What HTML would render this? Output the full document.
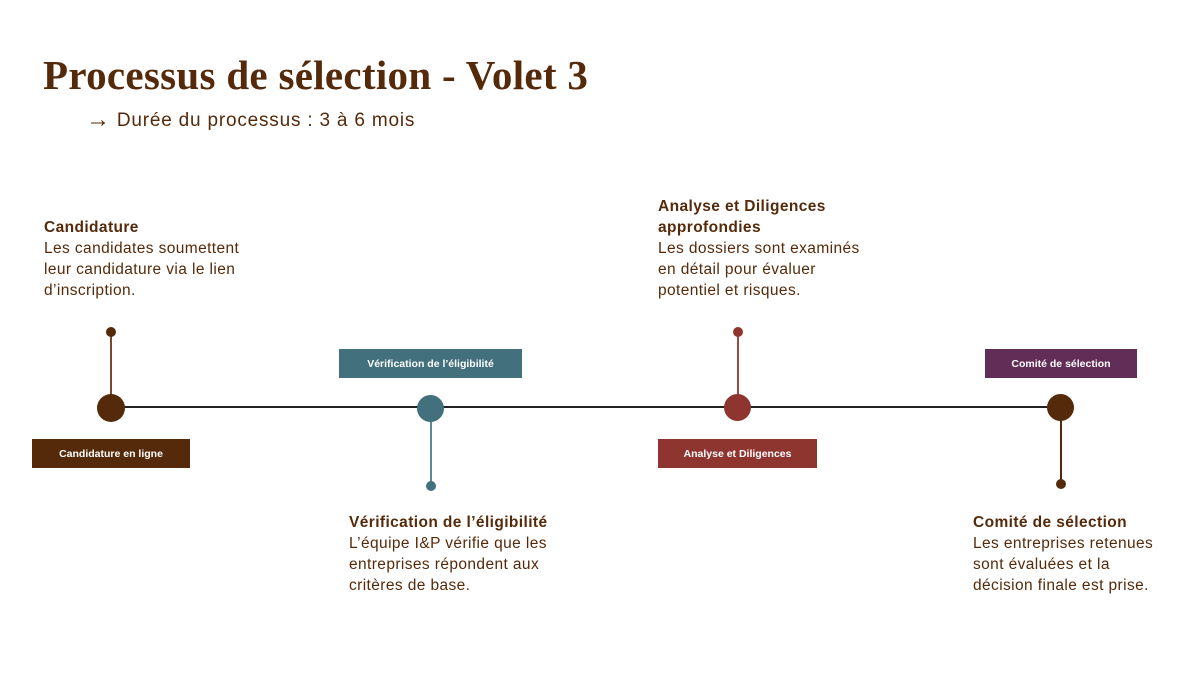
<!DOCTYPE html>
<html><head><meta charset="utf-8"><style>
body{margin:0;width:1200px;height:675px;background:#fff;position:relative;overflow:hidden;font-family:"Liberation Sans",sans-serif;color:#552a0a}
.a{position:absolute}
h1{position:absolute;left:43px;top:51px;margin:0;font-family:"Liberation Serif",serif;font-size:41px;font-weight:bold;color:#552a0a;letter-spacing:0.3px}
.sub{left:86px;top:105px;font-size:19px;letter-spacing:0.8px}
.sub span{font-size:24px;position:relative;top:1px;margin-right:6px}
.blk{font-size:15.5px;line-height:21px;letter-spacing:0.4px}
.blk b{display:block}
.box{position:absolute;color:#fff;font-size:10.5px;font-weight:bold;display:flex;align-items:center;justify-content:center;height:29px}
.c{position:absolute;border-radius:50%}
</style></head><body>
<h1>Processus de sélection - Volet 3</h1>
<div class="a sub"><span>→</span>Durée du processus : 3 à 6 mois</div>

<div class="a blk" style="left:44px;top:217px">
<b>Candidature</b>Les candidates soumettent<br>leur candidature via le lien<br>d’inscription.</div>
<div class="a blk" style="left:658px;top:196px">
<b>Analyse et Diligences<br>approfondies</b>Les dossiers sont examinés<br>en détail pour évaluer<br>potentiel et risques.</div>
<div class="a blk" style="left:349px;top:512px">
<b>Vérification de l’éligibilité</b>L’équipe I&amp;P vérifie que les<br>entreprises répondent aux<br>critères de base.</div>
<div class="a blk" style="left:973px;top:512px">
<b>Comité de sélection</b>Les entreprises retenues<br>sont évaluées et la<br>décision finale est prise.</div>

<div class="a" style="left:110px;top:406px;width:950px;height:2px;background:#222"></div>
<div class="a" style="left:110px;top:331px;width:2px;height:76px;background:#7a4a2e"></div>
<div class="a" style="left:430px;top:408px;width:2px;height:77px;background:#5e8a94"></div>
<div class="a" style="left:737px;top:331px;width:2px;height:76px;background:#a04a44"></div>
<div class="a" style="left:1060px;top:408px;width:2px;height:75px;background:#552a0a"></div>

<div class="c" style="left:106px;top:327px;width:10px;height:10px;background:#552a0a"></div>
<div class="c" style="left:426px;top:481px;width:10px;height:10px;background:#42707c"></div>
<div class="c" style="left:733px;top:327px;width:10px;height:10px;background:#8f3530"></div>
<div class="c" style="left:1056px;top:479px;width:10px;height:10px;background:#552a0a"></div>

<div class="c" style="left:97px;top:394px;width:28px;height:28px;background:#552a0a"></div>
<div class="c" style="left:417px;top:395px;width:27px;height:27px;background:#42707c"></div>
<div class="c" style="left:724px;top:394px;width:27px;height:27px;background:#8f3530"></div>
<div class="c" style="left:1047px;top:394px;width:27px;height:27px;background:#552a0a"></div>

<div class="box" style="left:32px;top:439px;width:158px;background:#552a0a">Candidature en ligne</div>
<div class="box" style="left:339px;top:349px;width:183px;background:#42707c">Vérification de l’éligibilité</div>
<div class="box" style="left:658px;top:439px;width:159px;background:#8f3530">Analyse et Diligences</div>
<div class="box" style="left:985px;top:349px;width:152px;background:#622d56">Comité de sélection</div>
</body></html>
